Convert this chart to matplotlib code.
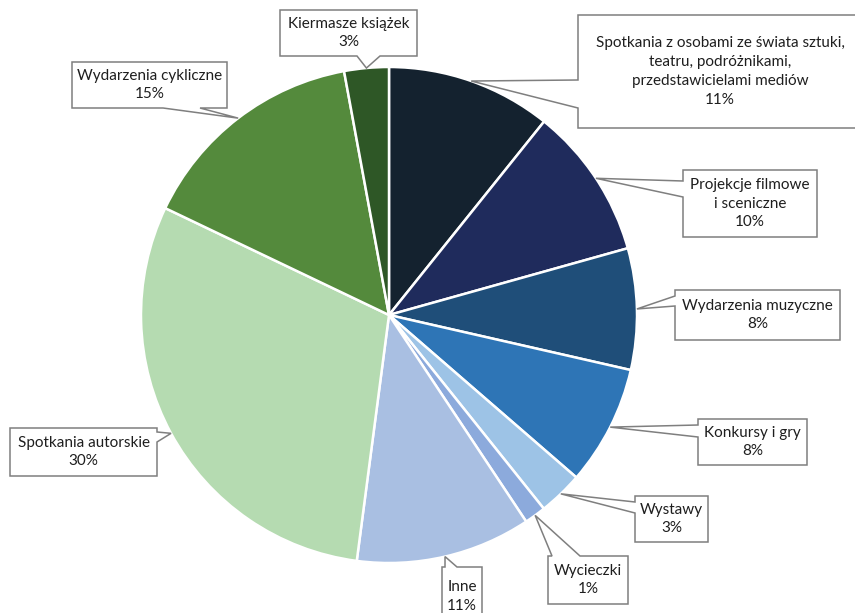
import numpy as np
import matplotlib
matplotlib.use("Agg")
import matplotlib.pyplot as plt
from matplotlib.patches import Polygon

plt.rcParams['font.family'] = ['Lato', 'DejaVu Sans']

# data (clockwise from 12 o'clock)
labels = [
    "Spotkania z osobami ze świata sztuki,\nteatru, podróżnikami,\nprzedstawicielami mediów",
    "Projekcje filmowe\ni sceniczne",
    "Wydarzenia muzyczne",
    "Konkursy i gry",
    "Wystawy",
    "Wycieczki",
    "Inne",
    "Spotkania autorskie",
    "Wydarzenia cykliczne",
    "Kiermasze książek",
]
values = [10.75, 9.9, 7.9, 7.8, 2.9, 1.4, 11.4, 30.0, 15.0, 2.9]
colors = ["#14222f", "#1f2b5c", "#1f4e79", "#2e75b6", "#9dc3e6",
          "#8caadc", "#a9bfe2", "#b5dbb1", "#548a3c", "#2e5726"]

# callout boxes in pixel coords (x0, y_top, x1, y_bottom), side of the wedge, wedge base
boxes = [
    (578, 15, 862, 128, 'left', (80, 108)),
    (683, 170, 817, 237, 'left', (181, 197)),
    (675, 290, 840, 340, 'left', (296, 306)),
    (698, 419, 807, 465, 'left', (425, 437)),
    (635, 496, 708, 542, 'left', (502, 513)),
    (548, 556, 628, 604, 'top', (552, 580)),
    (442, 567, 482, 626, 'top', (445, 457)),
    (10, 428, 157, 476, 'right', (432, 442)),
    (72, 62, 227, 108, 'bottom', (163, 200)),
    (280, 10, 417, 56, 'bottom', (357, 380)),
]

W, H = 855, 613
cx, cy, R = 389, H - 315, 248

fig = plt.figure(figsize=(W / 100, H / 100), dpi=100)
ax = fig.add_axes([0, 0, 1, 1])

wedges, _ = ax.pie(values, colors=colors, startangle=90, counterclock=False,
                   center=(cx, cy), radius=R,
                   wedgeprops=dict(edgecolor='white', linewidth=1.8))
ax.set_xlim(0, W)
ax.set_ylim(0, H)
ax.set_aspect('equal')
ax.axis('off')

total = sum(values)


def callout(box, apex):
    x0, yt, x1, yb, side, (a, b) = box
    yt, yb = H - yt, H - yb
    if side == 'top':
        pts = [(x0, yt), (a, yt), apex, (b, yt), (x1, yt), (x1, yb), (x0, yb)]
    elif side == 'right':
        pts = [(x0, yt), (x1, yt), (x1, H - a), apex, (x1, H - b), (x1, yb), (x0, yb)]
    elif side == 'bottom':
        pts = [(x0, yt), (x1, yt), (x1, yb), (b, yb), apex, (a, yb), (x0, yb)]
    else:
        pts = [(x0, yt), (x1, yt), (x1, yb), (x0, yb), (x0, H - b), apex, (x0, H - a)]
    ax.add_patch(Polygon(pts, closed=True, facecolor='white', edgecolor='#7f7f7f',
                         linewidth=1.1, zorder=3))
    return (x0 + x1) / 2, (yt + yb) / 2


for w, lab, v, box in zip(wedges, labels, values, boxes):
    mid = np.deg2rad((w.theta1 + w.theta2) / 2)
    apex = (cx + R * np.cos(mid), cy + R * np.sin(mid))
    tx, ty = callout(box, apex)
    ax.text(tx, ty, f"{lab}\n{v / total * 100:.0f}%", ha='center', va='center',
            fontsize=11, color='#1e1e1e', linespacing=1.45, zorder=4)

fig.savefig("out.png", dpi=100)
